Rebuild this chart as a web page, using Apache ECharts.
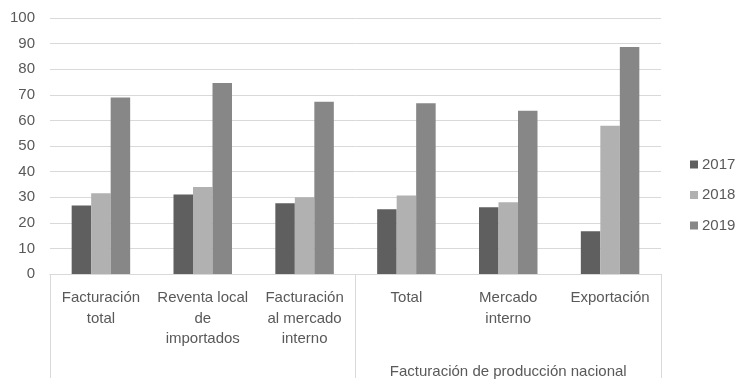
<!DOCTYPE html>
<html>
<head>
<meta charset="utf-8">
<script src="https://cdn.jsdelivr.net/npm/echarts@6/dist/echarts.min.js"></script>
<style>
  html, body { margin: 0; padding: 0; background: #fff; }
  #chart { width: 741px; height: 379px; }
</style>
</head>
<body>
<div id="chart"></div>
<script>
// categories, first level and group level
const categories = [
  'Facturación\ntotal',
  'Reventa local\nde\nimportados',
  'Facturación\nal mercado\ninterno',
  'Total',
  'Mercado\ninterno',
  'Exportación'
];
const groups = ['', 'Facturación de producción nacional'];
const years = ['2017', '2018', '2019'];

const values2017 = [26.8, 31.1, 27.6, 25.3, 26.1, 16.7];
const values2018 = [31.5, 34.0, 30.0, 30.7, 28.0, 57.9];
const values2019 = [68.9, 74.6, 67.3, 66.7, 63.8, 88.7];

const colors = ['#5f5f5f', '#b1b1b1', '#878787'];
const textColor = '#595959';
const font = 'Liberation Sans, Arial, sans-serif';

const chart = echarts.init(document.getElementById('chart'));

chart.setOption({
  animation: false,
  textStyle: { fontFamily: font },
  grid: { left: 50, right: 80, top: 18, bottom: 104 },
  legend: {
    orient: 'vertical',
    left: 690,
    top: 157,
    padding: 0,
    itemWidth: 8,
    itemHeight: 8,
    itemGap: 15.5,
    icon: 'rect',
    textStyle: { color: textColor, fontSize: 15, fontFamily: font, padding: [0, 0, 0, -1] },
    data: years
  },
  xAxis: [
    {
      type: 'category',
      data: categories,
      axisLine: { lineStyle: { color: '#d9d9d9' } },
      axisTick: { show: false },
      axisLabel: {
        interval: 0,
        color: textColor,
        fontSize: 15,
        fontFamily: font,
        lineHeight: 20.5,
        margin: 14
      }
    },
    {
      type: 'category',
      position: 'bottom',
      data: groups,
      axisLine: { lineStyle: { color: '#d9d9d9' } },
      axisTick: { show: true, length: 104, interval: 0, lineStyle: { color: '#d9d9d9' } },
      axisLabel: {
        interval: 0,
        color: textColor,
        fontSize: 15,
        fontFamily: font,
        margin: 90
      }
    }
  ],
  yAxis: {
    type: 'value',
    min: 0,
    max: 100,
    interval: 10,
    axisLine: { show: false },
    axisTick: { show: false },
    splitLine: { lineStyle: { color: '#d9d9d9' } },
    axisLabel: { color: textColor, fontSize: 15, fontFamily: font, margin: 15 }
  },
  series: [
    { name: years[0], type: 'bar', data: values2017, barWidth: 19.5, barGap: '0%', itemStyle: { color: colors[0] } },
    { name: years[1], type: 'bar', data: values2018, barWidth: 19.5, barGap: '0%', itemStyle: { color: colors[1] } },
    { name: years[2], type: 'bar', data: values2019, barWidth: 19.5, barGap: '0%', itemStyle: { color: colors[2] } }
  ]
});
</script>
</body>
</html>
